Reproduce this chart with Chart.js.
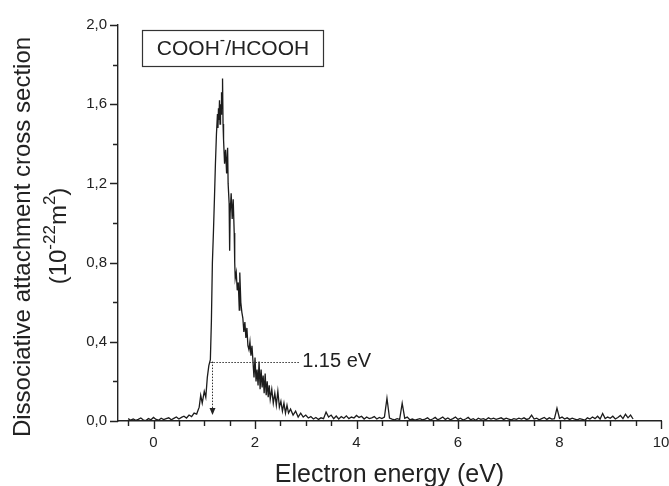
<!DOCTYPE html>
<html><head><meta charset="utf-8">
<script src="https://cdn.jsdelivr.net/npm/chart.js@4.4.0/dist/chart.umd.min.js"></script>
<style>html,body{margin:0;padding:0;background:#fff;}#wrap{width:669px;height:486px;position:relative;}</style>
</head><body><div id="wrap"><canvas id="c" width="669" height="486"></canvas></div>
<script>
// Electron energy (eV)
const energy = [
  -0.5,-0.45,-0.4,-0.35,-0.3,-0.25,-0.2,-0.15,-0.1,-0.05,
  0,0.05,0.1,0.15,0.2,0.25,0.3,0.35,0.4,0.45,
  0.5,0.55,0.6,0.65,0.7,0.75,0.8,0.85,
  0.90,0.93,0.96,1.00,1.03,1.06,1.09,1.12,1.14,1.16,
  1.18,1.20,1.22,1.24,1.26,1.27,1.28,1.29,1.30,1.31,
  1.32,1.33,1.34,1.35,1.36,1.37,1.38,1.40,1.42,1.44,
  1.46,1.47,1.49,1.50,1.51,1.53,1.55,1.57,1.59,1.60,
  1.61,1.63,1.65,1.67,1.69,1.70,1.72,1.74,1.76,1.78,
  1.80,1.82,1.84,1.86,1.88,1.90,1.92,1.94,1.96,1.98,
  2.00,2.02,2.04,2.06,2.08,2.10,2.12,2.14,2.16,2.18,
  2.20,2.22,2.24,2.26,2.28,2.30,2.33,2.36,2.39,2.42,
  2.45,2.48,2.51,2.54,2.57,2.60,2.63,2.66,2.70,2.75,
  2.80,2.85,2.90,2.95,3.00,
  3.05,3.10,3.15,3.20,3.25,3.30,3.35,3.40,3.45,3.50,
  3.55,3.60,3.65,3.70,3.75,3.80,3.85,3.90,3.95,4.00,
  4.05,4.10,4.15,4.20,4.25,4.30,4.35,4.40,4.45,4.50,
  4.55,4.60,4.65,4.70,4.75,4.80,4.85,4.90,4.95,5.00,
  5.05,5.10,5.15,5.20,5.25,5.30,5.35,5.40,5.45,5.50,
  5.55,5.60,5.65,5.70,5.75,5.80,5.85,5.90,5.95,6.00,
  6.05,6.10,6.15,6.20,6.25,6.30,6.35,6.40,6.45,6.50,
  6.55,6.60,6.65,6.70,6.75,6.80,6.85,6.90,6.95,7.00,
  7.05,7.10,7.15,7.20,7.25,7.30,7.35,7.40,7.45,7.50,
  7.55,7.60,7.65,7.70,7.75,7.80,7.85,7.90,7.95,8.00,
  8.05,8.10,8.15,8.20,8.25,8.30,8.35,8.40,8.45,8.50,
  8.55,8.60,8.65,8.70,8.75,8.80,8.85,8.90,8.95,9.00,
  9.05,9.10,9.15,9.20,9.25,9.30,9.35,9.40,9.45
];
// Dissociative attachment cross section (10^-22 m^2)
const crossSection = [
  0.012,0.004,0.010,0.003,0.008,0.015,0.005,0.002,0.012,0.006,
  0.018,0.008,0.004,0.014,0.007,0.012,0.016,0.006,0.013,0.020,
  0.010,0.018,0.024,0.015,0.030,0.022,0.040,0.035,
  0.07,0.13,0.09,0.15,0.12,0.22,0.28,0.31,0.50,0.80,
  0.95,1.12,1.30,1.45,1.55,1.48,1.58,1.52,1.62,1.50,
  1.60,1.55,1.66,1.58,1.73,1.50,1.42,1.30,1.37,1.25,
  1.38,1.20,1.10,0.86,1.05,1.15,1.02,1.12,0.95,0.80,
  0.72,0.75,0.66,0.70,0.56,0.75,0.60,0.55,0.52,0.45,
  0.50,0.42,0.47,0.38,0.36,0.40,0.33,0.38,0.30,0.22,
  0.32,0.20,0.26,0.18,0.30,0.16,0.26,0.17,0.23,0.14,
  0.24,0.13,0.20,0.12,0.18,0.11,0.16,0.09,0.14,0.08,
  0.15,0.07,0.10,0.05,0.09,0.04,0.08,0.04,0.06,0.03,
  0.05,0.02,0.04,0.02,0.03,
  0.015,0.022,0.010,0.018,0.008,0.016,0.012,0.045,0.020,0.030,
  0.012,0.025,0.010,0.022,0.014,0.026,0.012,0.020,0.015,0.028,
  0.018,0.024,0.010,0.020,0.012,0.016,0.022,0.010,0.018,0.012,
  0.020,0.115,0.015,0.010,0.006,0.012,0.008,0.090,0.014,0.020,
  0.006,0.010,0.004,0.008,0.012,0.006,0.010,0.016,0.005,0.010,
  0.018,0.006,0.012,0.020,0.008,0.015,0.006,0.012,0.020,0.008,
  0.014,0.005,0.010,0.018,0.006,0.012,0.004,0.014,0.008,0.012,
  0.006,0.016,0.010,0.014,0.008,0.012,0.016,0.008,0.014,0.010,
  0.006,0.012,0.008,0.014,0.010,0.016,0.008,0.012,0.030,0.010,
  0.014,0.006,0.012,0.018,0.008,0.016,0.010,0.012,0.065,0.014,
  0.020,0.010,0.016,0.008,0.014,0.010,0.006,0.012,0.008,0.004,
  0.016,0.010,0.020,0.012,0.024,0.010,0.038,0.012,0.020,0.014,
  0.024,0.010,0.018,0.028,0.012,0.034,0.016,0.030,0.010
];
const xTicks = [0, 2, 4, 6, 8, 10];
const xMinorTicks = [-0.5, 0.5, 1, 1.5, 2.5, 3, 3.5, 4.5, 5, 5.5, 6.5, 7, 7.5, 8.5, 9, 9.5];
const yTicks = [0, 0.4, 0.8, 1.2, 1.6, 2.0];
const yMinorTicks = [0.2, 0.6, 1.0, 1.4, 1.8];
const xTitle = 'Electron energy (eV)';
const yTitleLine1 = 'Dissociative attachment cross section';
const yTitleLine2 = [['(10', false], ['-22', true], ['m', false], ['2', true], [')', false]];
const legendParts = [['COOH', false], ['-', true], ['/HCOOH', false]];
const thresholdLabel = '1.15 eV';
const thresholdEnergy = 1.15;   // arrow position (eV)
const thresholdLevel = 0.30;    // height of the dotted marker
const markerStart = 1.12, markerEnd = 2.87, arrowEnd = 0.03;

const points = energy.map((e, i) => ({x: e, y: crossSection[i]}));
const FONT = "'Liberation Sans', Arial, sans-serif";
const INK = '#222';

function drawRich(ctx, parts, size, supSize, supRise) {
  let w = 0;
  parts.forEach(([t, sup]) => { ctx.font = (sup ? supSize : size) + 'px ' + FONT; w += ctx.measureText(t).width; });
  let x = -w / 2;
  parts.forEach(([t, sup]) => {
    ctx.font = (sup ? supSize : size) + 'px ' + FONT;
    ctx.fillText(t, x, sup ? -supRise : 0);
    x += ctx.measureText(t).width;
  });
}

const decor = {
  id: 'decor',
  afterDraw(chart) {
    const {ctx} = chart;
    const xs = chart.scales.x, ys = chart.scales.y;
    const area = chart.chartArea;
    ctx.save();
    ctx.strokeStyle = INK; ctx.lineWidth = 1.4;
    ctx.beginPath();
    xTicks.forEach(v => { const p = Math.round(xs.getPixelForValue(v)) + 0.5; ctx.moveTo(p, area.bottom); ctx.lineTo(p, area.bottom + 8); });
    xMinorTicks.forEach(v => { const p = Math.round(xs.getPixelForValue(v)) + 0.5; ctx.moveTo(p, area.bottom); ctx.lineTo(p, area.bottom + 5); });
    yTicks.forEach(v => { const p = Math.round(ys.getPixelForValue(v)) + 0.5; ctx.moveTo(area.left, p); ctx.lineTo(area.left - 8, p); });
    yMinorTicks.forEach(v => { const p = Math.round(ys.getPixelForValue(v)) + 0.5; ctx.moveTo(area.left, p); ctx.lineTo(area.left - 5, p); });
    ctx.stroke();

    // y title
    ctx.fillStyle = INK;
    ctx.textBaseline = 'middle';
    ctx.textAlign = 'left';
    ctx.save();
    ctx.translate(23, 237);
    ctx.rotate(-Math.PI / 2);
    ctx.font = '24px ' + FONT;
    const w1 = ctx.measureText(yTitleLine1).width;
    ctx.fillText(yTitleLine1, -w1 / 2, 0);
    ctx.restore();
    ctx.save();
    ctx.translate(59, 236);
    ctx.rotate(-Math.PI / 2);
    drawRich(ctx, yTitleLine2, 24, 17, 9);
    ctx.restore();

    // legend box
    ctx.fillStyle = '#fff';
    ctx.fillRect(142.5, 30.5, 181, 36);
    ctx.strokeStyle = '#333'; ctx.lineWidth = 1.2;
    ctx.strokeRect(142.5, 30.5, 181, 36);
    ctx.fillStyle = INK;
    ctx.save();
    ctx.translate(233, 49);
    drawRich(ctx, legendParts, 21, 16, 8);
    ctx.restore();

    // threshold marker
    const px0 = xs.getPixelForValue(markerStart), px1 = xs.getPixelForValue(markerEnd);
    const pa = xs.getPixelForValue(thresholdEnergy);
    const py = ys.getPixelForValue(thresholdLevel), pyEnd = ys.getPixelForValue(arrowEnd);
    ctx.strokeStyle = '#333'; ctx.lineWidth = 1;
    ctx.setLineDash([1.5, 1.5]);
    ctx.beginPath();
    ctx.moveTo(px0, Math.round(py) + 0.5); ctx.lineTo(px1, Math.round(py) + 0.5);
    ctx.moveTo(Math.round(pa) + 0.5, py); ctx.lineTo(Math.round(pa) + 0.5, pyEnd - 6);
    ctx.stroke();
    ctx.setLineDash([]);
    ctx.fillStyle = '#222';
    ctx.beginPath();
    ctx.moveTo(Math.round(pa) + 0.5 - 3, pyEnd - 7);
    ctx.lineTo(Math.round(pa) + 0.5 + 3, pyEnd - 7);
    ctx.lineTo(Math.round(pa) + 0.5, pyEnd);
    ctx.closePath(); ctx.fill();
    ctx.font = '20px ' + FONT;
    ctx.textAlign = 'left'; ctx.textBaseline = 'middle';
    ctx.fillText(thresholdLabel, px1 + 3, py);
    ctx.restore();
  }
};

new Chart(document.getElementById('c'), {
  type: 'scatter',
  data: { datasets: [{ data: points, showLine: true, borderColor: '#1c1c1c', borderWidth: 1.3, pointRadius: 0, tension: 0, fill: false }] },
  options: {
    responsive: false, animation: false,
    layout: { padding: { left: 0, right: 8, top: 25, bottom: 0 } },
    plugins: { legend: { display: false }, tooltip: { enabled: false } },
    scales: {
      x: {
        type: 'linear', min: -0.7, max: 10,
        afterBuildTicks: s => { s.ticks = xTicks.map(v => ({value: v})); },
        afterFit: s => { s.height = 65; s.paddingLeft = 0; s.paddingRight = 0; },
        grid: { display: false, drawTicks: false },
        border: { display: true, color: INK, width: 1.4 },
        ticks: { padding: 13, color: INK, font: { family: FONT, size: 15 }, callback: v => String(v), autoSkip: false, maxRotation: 0 },
        title: { display: true, text: xTitle, color: INK, font: { family: FONT, size: 25, lineHeight: 1 }, padding: { top: 0, bottom: -2 } }
      },
      y: {
        type: 'linear', min: 0, max: 2.0,
        afterBuildTicks: s => { s.ticks = yTicks.map(v => ({value: v})); },
        afterFit: s => { s.width = 118; s.paddingTop = 0; s.paddingBottom = 0; },
        grid: { display: false, drawTicks: false },
        border: { display: true, color: INK, width: 1.4 },
        ticks: { padding: 11, color: INK, font: { family: FONT, size: 15 }, callback: v => v.toFixed(1).replace('.', ','), autoSkip: false }
      }
    }
  },
  plugins: [decor]
});
</script></body></html>
